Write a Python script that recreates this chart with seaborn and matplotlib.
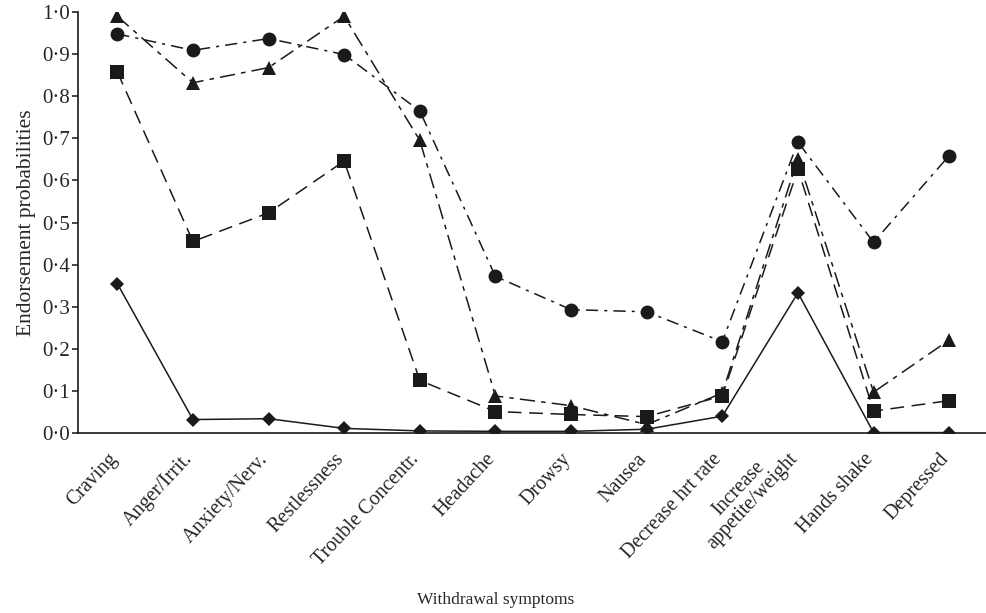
import numpy as np
import pandas as pd
import seaborn as sns
import matplotlib.pyplot as plt

sns.set_style("ticks")
plt.rcParams["font.family"] = ["Liberation Serif", "DejaVu Serif"]

# Data
symptoms = ["Craving", "Anger/Irrit.", "Anxiety/Nerv.", "Restlessness",
            "Trouble Concentr.", "Headache", "Drowsy", "Nausea",
            "Decrease hrt rate", "Increase\nappetite/weight", "Hands shake",
            "Depressed"]
circle_vals = [0.948, 0.909, 0.937, 0.899, 0.765, 0.372, 0.293, 0.288,
               0.217, 0.691, 0.453, 0.659]
triangle_vals = [0.99, 0.832, 0.868, 0.99, 0.695, 0.088, 0.065, 0.02,
                 0.095, 0.652, 0.097, 0.221]
square_vals = [0.858, 0.455, 0.523, 0.646, 0.125, 0.051, 0.044, 0.039,
               0.088, 0.627, 0.052, 0.077]
diamond_vals = [0.355, 0.032, 0.034, 0.011, 0.005, 0.004, 0.004, 0.009,
                0.040, 0.333, 0.001, 0.001]
ytick_vals = [0.0, 0.1, 0.2, 0.3, 0.4, 0.5, 0.6, 0.7, 0.8, 0.9, 1.0]
ytick_labels = ["0·0", "0·1", "0·2", "0·3", "0·4", "0·5", "0·6", "0·7",
                "0·8", "0·9", "1·0"]

x = np.arange(len(symptoms))

fig = plt.figure(figsize=(9.87, 6.13), dpi=100)
ax = fig.add_axes([0.079, 0.2936, 0.921, 0.6868])

styles = [
    (circle_vals, "o", 10, (0, (8, 4, 2, 4))),
    (triangle_vals, "^", 10, (0, (10, 4, 3, 4))),
    (square_vals, "s", 9.5, (0, (9, 5))),
    (diamond_vals, "D", 7, "-"),
]
for vals, mk, ms, ls in styles:
    sns.lineplot(x=x, y=vals, ax=ax, color="#1a1a1a", marker=mk,
                 markersize=ms, markeredgewidth=0, linestyle=ls,
                 linewidth=1.1)

ax.set_xlim(-0.52, 11.5)
ax.set_ylim(0, 1.0)
ax.set_yticks(ytick_vals)
ax.set_yticklabels(ytick_labels, fontsize=15)
ax.set_xticks(x)
ax.set_xticklabels(symptoms, rotation=47, ha="right", va="baseline",
                   rotation_mode="anchor", fontsize=14.5, linespacing=1.0,
                   multialignment="center")
ax.tick_params(axis="x", length=0, pad=19)
ax.tick_params(axis="y", length=4, width=1.2, direction="out", pad=2)

ax.set_ylabel("Endorsement probabilities", fontsize=15.5, labelpad=4)
ax.set_xlabel("Withdrawal symptoms", fontsize=12.5, va="center")
ax.xaxis.set_label_coords(0.459, -0.397)

sns.despine(ax=ax)
for sp in ["left", "bottom"]:
    ax.spines[sp].set_linewidth(1.2)
    ax.spines[sp].set_color("#1a1a1a")

plt.savefig("out.png", dpi=100)
plt.close()
